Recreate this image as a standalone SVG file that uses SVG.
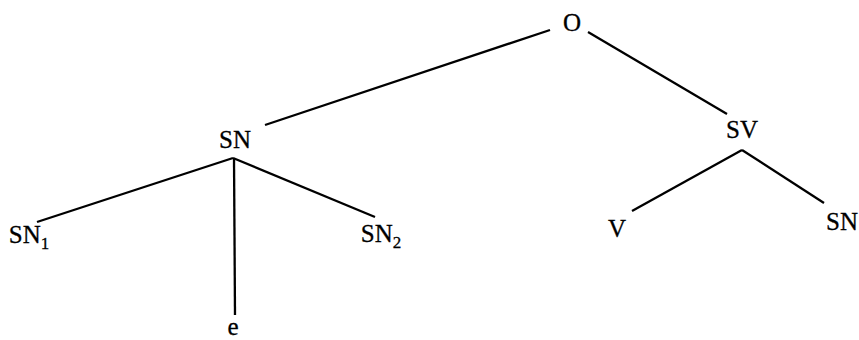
<svg xmlns="http://www.w3.org/2000/svg" width="859" height="340" viewBox="0 0 859 340">
<style>
text{font-family:"Liberation Serif","Times New Roman",serif;font-size:25px;fill:#000;text-anchor:middle;stroke:#000;stroke-width:0.3}
.sub{font-size:17px}
line{stroke:#000;stroke-width:2.3;stroke-linecap:butt}
</style>
<rect width="859" height="340" fill="#fff"/>
<g id="connectors">
<line x1="550" y1="30" x2="265" y2="125"/>
<line x1="588" y1="32" x2="727" y2="114"/>
<line x1="233" y1="158" x2="37" y2="222"/>
<line x1="233" y1="158" x2="375" y2="217"/>
<line x1="234" y1="158" x2="235" y2="315"/>
<line x1="742" y1="150" x2="632" y2="211"/>
<line x1="742" y1="150" x2="824" y2="203"/>
</g>
<g id="node-O"><text x="572" y="31">O</text></g>
<g id="node-SN"><text x="235" y="148">SN</text></g>
<g id="node-SV"><text x="742" y="138">SV</text></g>
<g id="node-SN1"><text x="29" y="243">SN<tspan class="sub" dy="6">1</tspan></text></g>
<g id="node-e"><text x="233" y="335">e</text></g>
<g id="node-SN2"><text x="381" y="242">SN<tspan class="sub" dy="6">2</tspan></text></g>
<g id="node-V"><text x="617" y="237">V</text></g>
<g id="node-SN3"><text x="858" y="230" style="text-anchor:end">SN</text></g>
</svg>
